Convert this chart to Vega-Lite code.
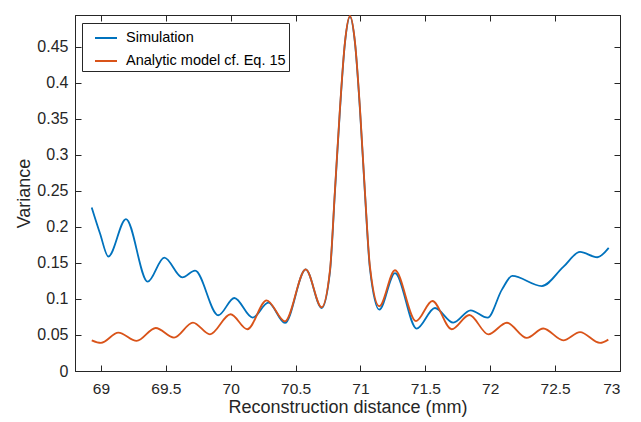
{
  "$schema": "https://vega.github.io/schema/vega-lite/v6.json",
  "width": 545,
  "height": 356,
  "autosize": "none",
  "padding": {"left": 75, "top": 15, "right": 21, "bottom": 51},
  "background": "white",
  "data": {"values": [
    {"x": 68.929, "y": 0.227, "s": "Simulation"},
    {"x": 68.993, "y": 0.191, "s": "Simulation"},
    {"x": 69.057, "y": 0.159, "s": "Simulation"},
    {"x": 69.193, "y": 0.211, "s": "Simulation"},
    {"x": 69.360, "y": 0.124, "s": "Simulation"},
    {"x": 69.488, "y": 0.1575, "s": "Simulation"},
    {"x": 69.627, "y": 0.130, "s": "Simulation"},
    {"x": 69.725, "y": 0.1394, "s": "Simulation"},
    {"x": 69.904, "y": 0.0774, "s": "Simulation"},
    {"x": 70.028, "y": 0.1014, "s": "Simulation"},
    {"x": 70.169, "y": 0.0741, "s": "Simulation"},
    {"x": 70.290, "y": 0.095, "s": "Simulation"},
    {"x": 70.418, "y": 0.0667, "s": "Simulation"},
    {"x": 70.578, "y": 0.1412, "s": "Simulation"},
    {"x": 70.701, "y": 0.0875, "s": "Simulation"},
    {"x": 70.765, "y": 0.138, "s": "Simulation"},
    {"x": 70.803, "y": 0.248, "s": "Simulation"},
    {"x": 70.842, "y": 0.363, "s": "Simulation"},
    {"x": 70.880, "y": 0.455, "s": "Simulation"},
    {"x": 70.919, "y": 0.492, "s": "Simulation"},
    {"x": 70.958, "y": 0.455, "s": "Simulation"},
    {"x": 70.996, "y": 0.363, "s": "Simulation"},
    {"x": 71.034, "y": 0.248, "s": "Simulation"},
    {"x": 71.073, "y": 0.142, "s": "Simulation"},
    {"x": 71.145, "y": 0.0853, "s": "Simulation"},
    {"x": 71.266, "y": 0.136, "s": "Simulation"},
    {"x": 71.433, "y": 0.0589, "s": "Simulation"},
    {"x": 71.574, "y": 0.0875, "s": "Simulation"},
    {"x": 71.715, "y": 0.0672, "s": "Simulation"},
    {"x": 71.849, "y": 0.0843, "s": "Simulation"},
    {"x": 71.980, "y": 0.074, "s": "Simulation"},
    {"x": 72.090, "y": 0.113, "s": "Simulation"},
    {"x": 72.170, "y": 0.132, "s": "Simulation"},
    {"x": 72.397, "y": 0.118, "s": "Simulation"},
    {"x": 72.563, "y": 0.1445, "s": "Simulation"},
    {"x": 72.692, "y": 0.1653, "s": "Simulation"},
    {"x": 72.825, "y": 0.158, "s": "Simulation"},
    {"x": 72.913, "y": 0.171, "s": "Simulation"},
    {"x": 68.929, "y": 0.0426, "s": "Analytic model cf. Eq. 15"},
    {"x": 69.000, "y": 0.039, "s": "Analytic model cf. Eq. 15"},
    {"x": 69.134, "y": 0.0533, "s": "Analytic model cf. Eq. 15"},
    {"x": 69.275, "y": 0.0417, "s": "Analytic model cf. Eq. 15"},
    {"x": 69.422, "y": 0.0597, "s": "Analytic model cf. Eq. 15"},
    {"x": 69.563, "y": 0.0464, "s": "Analytic model cf. Eq. 15"},
    {"x": 69.709, "y": 0.0672, "s": "Analytic model cf. Eq. 15"},
    {"x": 69.840, "y": 0.051, "s": "Analytic model cf. Eq. 15"},
    {"x": 69.999, "y": 0.0788, "s": "Analytic model cf. Eq. 15"},
    {"x": 70.128, "y": 0.058, "s": "Analytic model cf. Eq. 15"},
    {"x": 70.277, "y": 0.0982, "s": "Analytic model cf. Eq. 15"},
    {"x": 70.418, "y": 0.069, "s": "Analytic model cf. Eq. 15"},
    {"x": 70.578, "y": 0.1412, "s": "Analytic model cf. Eq. 15"},
    {"x": 70.701, "y": 0.0885, "s": "Analytic model cf. Eq. 15"},
    {"x": 70.765, "y": 0.14, "s": "Analytic model cf. Eq. 15"},
    {"x": 70.803, "y": 0.25, "s": "Analytic model cf. Eq. 15"},
    {"x": 70.842, "y": 0.365, "s": "Analytic model cf. Eq. 15"},
    {"x": 70.880, "y": 0.456, "s": "Analytic model cf. Eq. 15"},
    {"x": 70.919, "y": 0.493, "s": "Analytic model cf. Eq. 15"},
    {"x": 70.958, "y": 0.456, "s": "Analytic model cf. Eq. 15"},
    {"x": 70.996, "y": 0.365, "s": "Analytic model cf. Eq. 15"},
    {"x": 71.034, "y": 0.25, "s": "Analytic model cf. Eq. 15"},
    {"x": 71.073, "y": 0.145, "s": "Analytic model cf. Eq. 15"},
    {"x": 71.145, "y": 0.0899, "s": "Analytic model cf. Eq. 15"},
    {"x": 71.266, "y": 0.1399, "s": "Analytic model cf. Eq. 15"},
    {"x": 71.428, "y": 0.0694, "s": "Analytic model cf. Eq. 15"},
    {"x": 71.554, "y": 0.0972, "s": "Analytic model cf. Eq. 15"},
    {"x": 71.703, "y": 0.058, "s": "Analytic model cf. Eq. 15"},
    {"x": 71.839, "y": 0.0778, "s": "Analytic model cf. Eq. 15"},
    {"x": 71.985, "y": 0.051, "s": "Analytic model cf. Eq. 15"},
    {"x": 72.128, "y": 0.067, "s": "Analytic model cf. Eq. 15"},
    {"x": 72.281, "y": 0.046, "s": "Analytic model cf. Eq. 15"},
    {"x": 72.409, "y": 0.059, "s": "Analytic model cf. Eq. 15"},
    {"x": 72.563, "y": 0.0426, "s": "Analytic model cf. Eq. 15"},
    {"x": 72.692, "y": 0.054, "s": "Analytic model cf. Eq. 15"},
    {"x": 72.846, "y": 0.039, "s": "Analytic model cf. Eq. 15"},
    {"x": 72.910, "y": 0.0436, "s": "Analytic model cf. Eq. 15"}
  ]},
  "layer": [
    {
      "mark": {"type": "line", "interpolate": "monotone", "strokeWidth": 1.8},
      "encoding": {
        "x": {"field": "x", "type": "quantitative",
              "scale": {"domain": [68.8, 73], "nice": false, "zero": false},
              "axis": {"values": [69, 69.5, 70, 70.5, 71, 71.5, 72, 72.5, 73], "format": "~g",
                       "title": "Reconstruction distance (mm)", "grid": false,
                       "tickSize": -6, "labelPadding": 16, "labelFontSize": 15.5, "titlePadding": 2}},
        "y": {"field": "y", "type": "quantitative",
              "scale": {"domain": [0, 0.4944], "nice": false},
              "axis": {"values": [0, 0.05, 0.1, 0.15, 0.2, 0.25, 0.3, 0.35, 0.4, 0.45], "format": "~g",
                       "title": "Variance", "grid": false,
                       "tickSize": -6, "labelPadding": 13, "titlePadding": 3}},
        "color": {"field": "s", "type": "nominal",
                  "scale": {"domain": ["Simulation", "Analytic model cf. Eq. 15"], "range": ["#0072BD", "#D95319"]},
                  "legend": {"title": null, "orient": "none", "legendX": 7, "legendY": 8}}
      }
    },
    {
      "mark": {"type": "line", "strokeOpacity": 0},
      "encoding": {
        "x": {"field": "x", "type": "quantitative",
              "axis": {"orient": "top", "values": [69, 69.5, 70, 70.5, 71, 71.5, 72, 72.5, 73], "labels": false,
                       "title": null, "grid": false, "tickSize": -6}},
        "y": {"field": "y", "type": "quantitative",
              "axis": {"orient": "right", "values": [0, 0.05, 0.1, 0.15, 0.2, 0.25, 0.3, 0.35, 0.4, 0.45], "labels": false,
                       "title": null, "grid": false, "tickSize": -6}}
      }
    }
  ],
  "resolve": {"axis": {"x": "independent", "y": "independent"}},
  "config": {
    "view": {"stroke": "#262626", "strokeWidth": 1},
    "font": "Liberation Sans",
    "axis": {
      "domainColor": "#262626", "tickColor": "#262626", "labelColor": "#262626", "titleColor": "#262626",
      "labelFont": "Liberation Sans", "titleFont": "Liberation Sans",
      "labelFontSize": 16, "titleFontSize": 18, "titleFontWeight": "normal",
      "domainWidth": 1, "tickWidth": 1
    },
    "legend": {
      "fillColor": "white", "strokeColor": "#262626", "padding": 3,
      "symbolType": "stroke", "symbolSize": 484, "symbolStrokeWidth": 2, "symbolOffset": 9,
      "labelFont": "Liberation Sans", "labelFontSize": 14.5, "labelColor": "#000000",
      "labelOffset": 8, "rowPadding": 4, "labelLimit": 400
    }
  }
}
